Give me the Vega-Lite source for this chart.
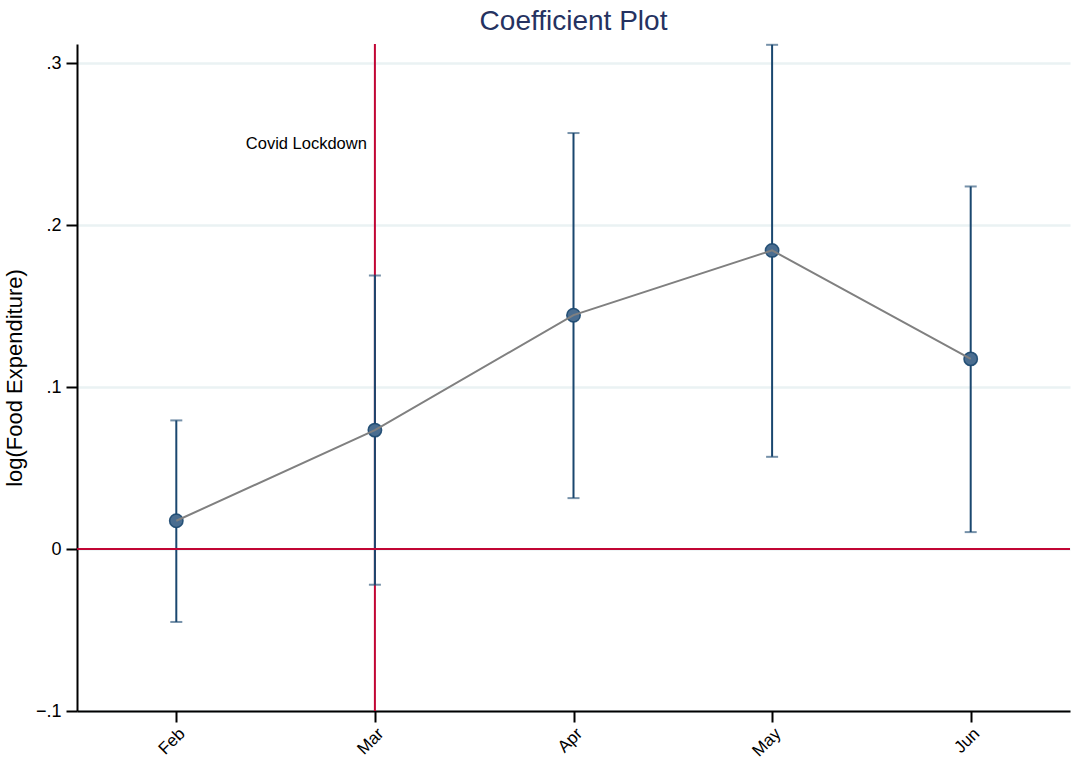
{
  "$schema": "https://vega.github.io/schema/vega-lite/v6.json",
  "width": 993,
  "height": 667,
  "autosize": {"type": "none"},
  "padding": {"left": 77, "top": 44, "right": 4, "bottom": 49},
  "background": "white",
  "title": {"text": "Coefficient Plot", "fontSize": 28, "font": "Liberation Sans", "fontWeight": "normal", "color": "#253261", "anchor": "middle", "offset": 7},
  "config": {
    "view": {"stroke": null},
    "font": "Liberation Sans"
  },
  "datasets": {
    "coef": [
      {"month": "Feb", "b": 0.0175, "lo": -0.045, "hi": 0.0795},
      {"month": "Mar", "b": 0.0735, "lo": -0.022, "hi": 0.169},
      {"month": "Apr", "b": 0.1445, "lo": 0.0315, "hi": 0.257},
      {"month": "May", "b": 0.1845, "lo": 0.057, "hi": 0.3115},
      {"month": "Jun", "b": 0.1175, "lo": 0.0105, "hi": 0.224}
    ],
    "vline": [{"month": "Mar"}],
    "hline": [{"y": 0}],
    "note": [{"month": "Mar", "y": 0.25, "label": "Covid Lockdown"}]
  },
  "layer": [
    {
      "data": {"name": "vline"},
      "mark": {"type": "rule", "color": "#c10534", "strokeWidth": 2},
      "encoding": {
        "x": {"field": "month", "type": "nominal", "sort": ["Feb", "Mar", "Apr", "May", "Jun"],
          "scale": {"type": "point", "padding": 0.5, "domain": ["Feb", "Mar", "Apr", "May", "Jun"]},
          "axis": {"title": null, "labelAngle": -45, "labelFontSize": 17, "labelColor": "#000", "domainColor": "#000", "domainWidth": 2, "tickColor": "#000", "tickWidth": 2, "tickSize": 11, "labelPadding": 3, "grid": false}}
      }
    },
    {
      "data": {"name": "coef"},
      "mark": {"type": "rule", "color": "#1a476f", "strokeWidth": 2},
      "encoding": {
        "x": {"field": "month", "type": "nominal", "sort": ["Feb", "Mar", "Apr", "May", "Jun"]},
        "y": {"field": "lo", "type": "quantitative",
          "scale": {"domain": [-0.1, 0.312], "nice": false, "zero": false},
          "axis": {"title": "log(Food Expenditure)", "titleFontSize": 22, "titleFontWeight": "normal", "titleColor": "#000", "titlePadding": 9,
            "values": [-0.1, 0, 0.1, 0.2, 0.3],
            "labelExpr": "datum.value == 0 ? '0' : replace(format(datum.value, '.1f'), '0.', '.')",
            "labelFontSize": 18, "labelColor": "#000", "labelPadding": 5,
            "domainColor": "#000", "domainWidth": 2, "tickColor": "#000", "tickWidth": 2, "tickSize": 11,
            "grid": true, "gridColor": "#eaf2f3", "gridWidth": 2.5}},
        "y2": {"field": "hi"}
      }
    },
    {
      "data": {"name": "coef"},
      "mark": {"type": "tick", "color": "#1a476f", "opacity": 0.6, "thickness": 2, "size": 12, "orient": "horizontal"},
      "encoding": {
        "x": {"field": "month", "type": "nominal", "sort": ["Feb", "Mar", "Apr", "May", "Jun"]},
        "y": {"field": "lo", "type": "quantitative"}
      }
    },
    {
      "data": {"name": "coef"},
      "mark": {"type": "tick", "color": "#1a476f", "opacity": 0.6, "thickness": 2, "size": 12, "orient": "horizontal"},
      "encoding": {
        "x": {"field": "month", "type": "nominal", "sort": ["Feb", "Mar", "Apr", "May", "Jun"]},
        "y": {"field": "hi", "type": "quantitative"}
      }
    },
    {
      "data": {"name": "coef"},
      "mark": {"type": "point", "filled": true, "size": 180, "fill": "#4a6d90", "fillOpacity": 1, "stroke": "#1a476f", "strokeWidth": 1.5, "strokeOpacity": 0.9},
      "encoding": {
        "x": {"field": "month", "type": "nominal", "sort": ["Feb", "Mar", "Apr", "May", "Jun"]},
        "y": {"field": "b", "type": "quantitative"}
      }
    },
    {
      "data": {"name": "coef"},
      "mark": {"type": "line", "color": "#808080", "strokeWidth": 2},
      "encoding": {
        "x": {"field": "month", "type": "nominal", "sort": ["Feb", "Mar", "Apr", "May", "Jun"]},
        "y": {"field": "b", "type": "quantitative"}
      }
    },
    {
      "data": {"name": "hline"},
      "mark": {"type": "rule", "color": "#c10534", "strokeWidth": 2},
      "encoding": {
        "y": {"field": "y", "type": "quantitative"}
      }
    },
    {
      "data": {"name": "note"},
      "mark": {"type": "text", "align": "right", "baseline": "middle", "dx": -8, "fontSize": 16.5, "color": "#000"},
      "encoding": {
        "x": {"field": "month", "type": "nominal", "sort": ["Feb", "Mar", "Apr", "May", "Jun"]},
        "y": {"field": "y", "type": "quantitative"},
        "text": {"field": "label"}
      }
    }
  ]
}
